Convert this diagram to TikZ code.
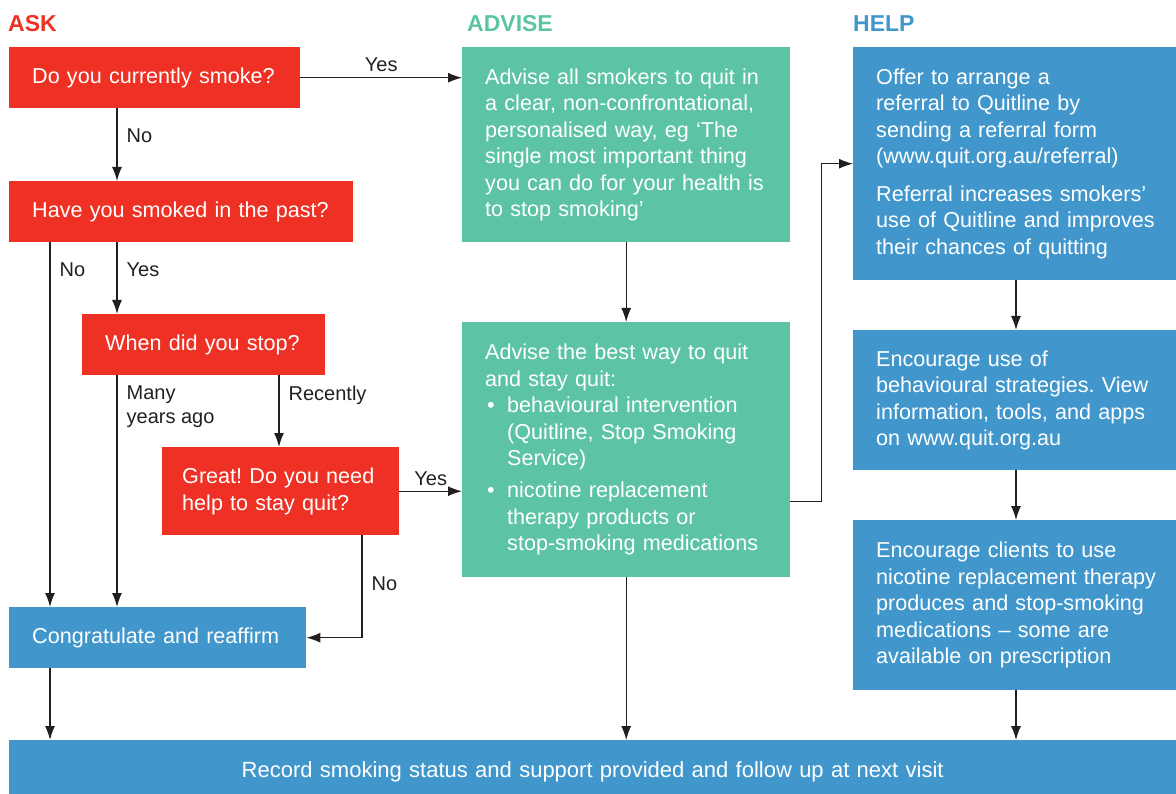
\documentclass[tikz,border=0pt]{standalone}
\usepackage{fontspec}
\setmainfont{Liberation Sans}
\usetikzlibrary{arrows.meta}

\definecolor{askred}{HTML}{EE3124}
\definecolor{advgreen}{HTML}{5CC4A4}
\definecolor{helpblue}{HTML}{4197CC}
\definecolor{linegray}{HTML}{231F20}

\frenchspacing
\hyphenpenalty=10000

\tikzset{
  box/.style={anchor=north west, text=white, inner xsep=23pt, inner ysep=0pt,
    align=left, font=\fontsize{21.6}{26.5}\selectfont},
  arr/.style={-{Latex[length=14pt,width=10pt]}, line width=1.3pt, draw=linegray},
  lbl/.style={text=linegray, font=\fontsize{20}{24}\selectfont, inner xsep=9pt, inner ysep=3pt},
  title/.style={anchor=west, font=\fontsize{23}{26}\selectfont\bfseries, inner sep=0pt}
}

\begin{document}
\begin{tikzpicture}[x=1pt,y=-1pt]
  \useasboundingbox (0,0) rectangle (1176,794);

  % Column titles
  \node[title, text=askred] (asktitle) at (8,24) {ASK};
  \node[title, text=advgreen] (advtitle) at (467,24) {ADVISE};
  \node[title, text=helpblue] (helptitle) at (853,24) {HELP};

  % Ask column
  \node[box, fill=askred, text width=245pt, minimum height=61pt] (smoke) at (9,47) {Do you currently smoke?};
  \node[box, fill=askred, text width=298pt, minimum height=61pt] (past) at (9,181) {Have you smoked in the past?};
  \node[box, fill=askred, text width=197pt, minimum height=61pt] (stop) at (82,314) {When did you stop?};
  \node[box, fill=askred, inner xsep=20pt, text width=197pt, minimum height=88pt] (great) at (162,447) {Great! Do you need\\help to stay quit?};
  \node[box, fill=helpblue, text width=251pt, minimum height=61pt] (congrat) at (9,607) {Congratulate and reaffirm};

  % Advise column
  \node[box, fill=advgreen, text width=282pt, minimum height=195pt] (advise) at (462,47)
    {Advise all smokers to quit in\\a clear, non-confrontational,\\personalised way, eg `The\\single most important thing\\you can do for your health is\\to stop smoking'};
  \node[box, fill=advgreen, text width=282pt, minimum height=255pt] (tips) at (462,322)
    {Advise the best way to quit\\and stay quit:\\
     \makebox[22pt][l]{\hspace{2pt}•}behavioural intervention\\
     \hspace*{22pt}(Quitline, Stop Smoking\\
     \hspace*{22pt}Service)\\[5.5pt]
     \makebox[22pt][l]{\hspace{2pt}•}nicotine replacement\\
     \hspace*{22pt}therapy products or\\
     \hspace*{22pt}stop-smoking medications};

  % Help column (these run off the right edge)
  \node[box, fill=helpblue, text width=300pt, minimum height=233pt] (referral) at (853,47)
    {Offer to arrange a\\referral to Quitline by\\sending a referral form\\(www.quit.org.au/referral)\\[11pt]
     Referral increases smokers'\\use of Quitline and improves\\their chances of quitting};
  \node[box, fill=helpblue, text width=300pt, minimum height=140pt] (behave) at (853,330)
    {Encourage use of\\behavioural strategies. View\\information, tools, and apps\\on www.quit.org.au};
  \node[box, fill=helpblue, text width=300pt, minimum height=170pt] (drugs) at (853,520)
    {Encourage clients to use\\nicotine replacement therapy\\produces and stop-smoking\\medications -- some are\\available on prescription};

  % Bottom bar
  \node[box, fill=helpblue, align=center, text width=1121pt, minimum height=64pt,
    font=\fontsize{22}{26.5}\selectfont] (record) at (9,740)
    {Record smoking status and support provided and follow up at next visit};

  % Connectors in the ask column
  \draw[arr] (smoke.east) -- node[lbl, above, yshift=2pt] {Yes} (smoke.east -| advise.west);
  \draw[arr] ([xshift=108pt]smoke.south west) -- node[lbl, right, pos=0.38] {No} ([xshift=108pt]past.north west);
  \draw[arr] ([xshift=41pt]past.south west) -- node[lbl, right, pos=0.075] {No} ([xshift=41pt]past.south west |- congrat.north);
  \draw[arr] ([xshift=108pt]past.south west) -- node[lbl, right, pos=0.38] {Yes} ([xshift=108pt]past.south west |- stop.north);
  \draw[arr] ([xshift=35pt]stop.south west) -- node[lbl, anchor=north west, align=left, pos=0, yshift=-7pt] {Many\\years ago} ([xshift=35pt]stop.south west |- congrat.north);
  \draw[arr] ([xshift=197pt]stop.south west) -- node[lbl, right, pos=0.28] {Recently} ([xshift=197pt]stop.south west |- great.north);
  \draw[arr] (great.east) -- node[lbl, above, yshift=2pt] {Yes} (great.east -| tips.west);
  \draw[arr] ([xshift=200pt]great.south west) |- node[lbl, right, pos=0.235] {No} (congrat.east);
  \draw[arr] ([xshift=41pt]congrat.south west) -- ([xshift=41pt]congrat.south west |- record.north);

  % Connectors in the advise and help columns
  \draw[arr] (advise.south) -- (tips.north);
  \draw[arr] ([yshift=-52pt]tips.east) -- ++(31,0) |- (referral.west);
  \draw[arr] (tips.south) -- (tips.south |- record.north);
  \draw[arr] ([xshift=163pt]referral.south west) -- ([xshift=163pt]behave.north west);
  \draw[arr] ([xshift=163pt]behave.south west) -- ([xshift=163pt]drugs.north west);
  \draw[arr] ([xshift=163pt]drugs.south west) -- ([xshift=163pt]drugs.south west |- record.north);
\end{tikzpicture}
\end{document}
